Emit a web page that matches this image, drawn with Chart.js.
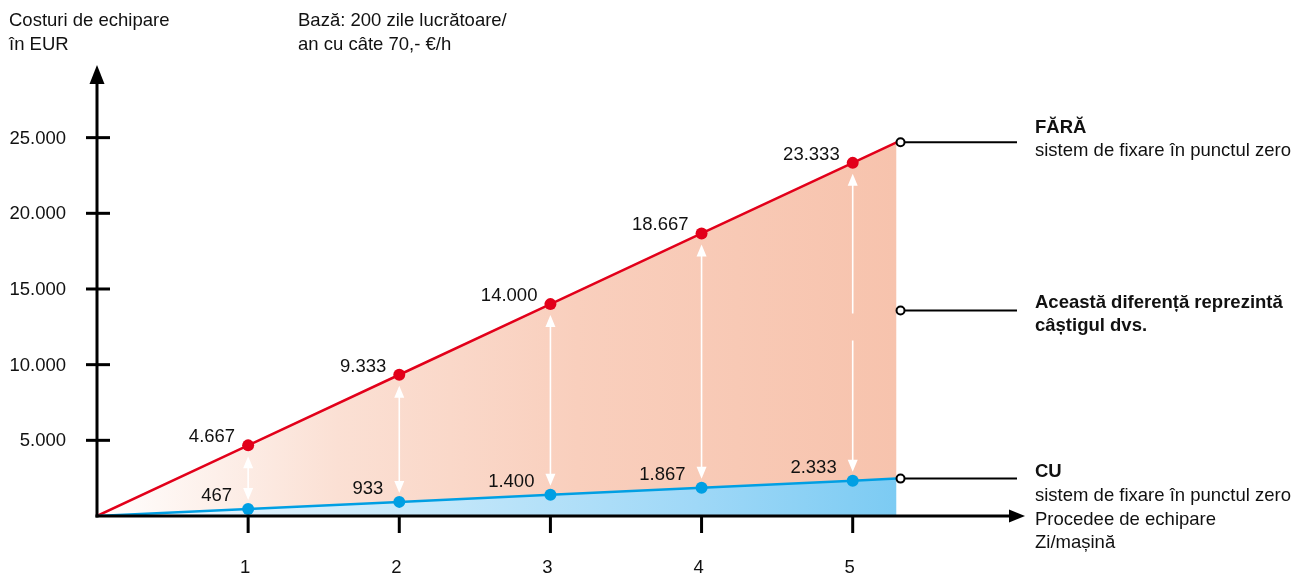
<!DOCTYPE html>
<html>
<head>
<meta charset="utf-8">
<script src="https://cdn.jsdelivr.net/npm/chart.js@4"></script>
<style>
html,body{margin:0;padding:0;background:#fff;}
canvas{display:block;}
</style>
</head>
<body>
<canvas id="c" width="1307" height="573"></canvas>
<script>
// ---- data ----
const categories = [0, 1, 2, 3, 4, 5, 5.29];          // Procedee de echipare Zi/mașină
const faraValues = [0, 4667, 9333, 14000, 18667, 23333, 24690]; // FĂRĂ sistem
const cuValues   = [0, 467, 933, 1400, 1867, 2333, 2470];        // CU sistem
const xTicks = [1, 2, 3, 4, 5];
const yTicks = [5000, 10000, 15000, 20000, 25000];
const xMax = 6.14;
const yMax = 29800;

const yTitle = ['Costuri de echipare', 'în EUR'];
const baseNote = ['Bază: 200 zile lucrătoare/', 'an cu câte 70,- €/h'];
const faraTitle = 'FĂRĂ';
const sysText = 'sistem de fixare în punctul zero';
const diffText = ['Această diferență reprezintă', 'câștigul dvs.'];
const cuTitle = 'CU';
const xTitle = ['Procedee de echipare', 'Zi/mașină'];

const FONT = '"Liberation Sans", Arial, Helvetica, sans-serif';
const FS = '18.5px ';
const RED = '#e2001a';
const BLUE = '#009fe3';

function fmt(v){ return String(Math.round(v)).replace(/\B(?=(\d{3})+(?!\d))/g, '.'); }

function gradFill(stops){
  return function(ctx){
    const chart = ctx.chart;
    const area = chart.chartArea;
    if(!area) return null;
    const xs = chart.scales.x;
    const g = chart.ctx.createLinearGradient(xs.getPixelForValue(0), 0, xs.getPixelForValue(categories[categories.length-1]), 0);
    stops.forEach(s => g.addColorStop(s[0], s[1]));
    return g;
  };
}

function edgeRadius(r){
  return function(ctx){
    const i = ctx.dataIndex;
    return (i === 0 || i === categories.length - 1) ? 0 : r;
  };
}

const overlay = {
  id: 'overlay',
  afterDatasetsDraw(chart){
    const c = chart.ctx;
    const xs = chart.scales.x, ys = chart.scales.y;
    const X = v => xs.getPixelForValue(v);
    const Y = v => ys.getPixelForValue(v);
    const x0 = X(0), y0 = Y(0);
    const n = categories.length;
    c.save();

    // white double arrows
    const redEndY = Y(faraValues[n-1]), cuEndY = Y(cuValues[n-1]);
    const midY = (redEndY + cuEndY) / 2;
    c.strokeStyle = '#fff'; c.fillStyle = '#fff'; c.lineWidth = 1.6;
    for(let i = 1; i <= 5; i++){
      const x = X(categories[i]);
      const t = Y(faraValues[i]) + 11;
      const b = Y(cuValues[i]) - 9;
      const hl = 12, hw = 5;
      c.beginPath();
      if(i === 5){
        c.moveTo(x, t + hl - 1); c.lineTo(x, midY + 3);
        c.moveTo(x, midY + 30); c.lineTo(x, b - hl + 1);
      } else {
        c.moveTo(x, t + hl - 1); c.lineTo(x, b - hl + 1);
      }
      c.stroke();
      c.beginPath(); c.moveTo(x, t); c.lineTo(x - hw, t + hl); c.lineTo(x + hw, t + hl); c.closePath(); c.fill();
      c.beginPath(); c.moveTo(x, b); c.lineTo(x - hw, b - hl); c.lineTo(x + hw, b - hl); c.closePath(); c.fill();
    }

    // axes
    c.strokeStyle = '#000'; c.fillStyle = '#000'; c.lineWidth = 3;
    const yTip = ys.top, xTip = xs.right;
    c.beginPath(); c.moveTo(x0, y0 + 1.5); c.lineTo(x0, yTip + 16); c.stroke();
    c.beginPath(); c.moveTo(x0, yTip); c.lineTo(x0 - 7.5, yTip + 19); c.lineTo(x0 + 7.5, yTip + 19); c.closePath(); c.fill();
    c.beginPath(); c.moveTo(x0 - 1.5, y0); c.lineTo(xTip - 14, y0); c.stroke();
    c.beginPath(); c.moveTo(xTip, y0); c.lineTo(xTip - 16, y0 - 6.5); c.lineTo(xTip - 16, y0 + 6.5); c.closePath(); c.fill();

    // ticks
    c.lineWidth = 3;
    yTicks.forEach(v => { const y = Y(v); c.beginPath(); c.moveTo(x0 - 11, y); c.lineTo(x0 + 13, y); c.stroke(); });
    xTicks.forEach(v => { const x = X(v); c.beginPath(); c.moveTo(x, y0); c.lineTo(x, y0 + 17); c.stroke(); });

    c.font = FS + FONT;
    c.textBaseline = 'alphabetic';
    c.fillStyle = '#111';
    c.textAlign = 'right';
    yTicks.forEach(v => c.fillText(fmt(v), 66, Y(v) + 6));
    c.textAlign = 'center';
    xTicks.forEach(v => c.fillText(String(v), X(v) - 3, 573));

    // data labels
    c.textAlign = 'right';
    for(let i = 1; i <= 5; i++){
      const x = X(categories[i]);
      c.fillText(fmt(faraValues[i]), x - 13, Y(faraValues[i]) - 3);
      c.fillText(fmt(cuValues[i]), x - 16, Y(cuValues[i]) - 8);
    }

    // titles
    c.textAlign = 'left';
    c.fillText(yTitle[0], 9, 26); c.fillText(yTitle[1], 9, 50);
    c.fillText(baseNote[0], 298, 26); c.fillText(baseNote[1], 298, 50);

    // leader lines with open circles
    const ex = X(categories[n-1]) + 4;
    [redEndY, midY, cuEndY].forEach(y => {
      c.strokeStyle = '#000'; c.lineWidth = 2;
      c.beginPath(); c.moveTo(ex + 4, y); c.lineTo(1017, y); c.stroke();
      c.beginPath(); c.arc(ex, y, 4, 0, Math.PI * 2); c.fillStyle = '#fff'; c.fill(); c.stroke();
    });

    const tx = 1035;
    c.fillStyle = '#111';
    c.font = 'bold ' + FS + FONT;
    c.fillText(faraTitle, tx, 133);
    c.fillText(diffText[0], tx, 308);
    c.fillText(diffText[1], tx, 331);
    c.fillText(cuTitle, tx, 477);
    c.font = FS + FONT;
    c.fillText(sysText, tx, 156);
    c.fillText(sysText, tx, 501);
    c.fillText(xTitle[0], tx, 525);
    c.fillText(xTitle[1], tx, 548);

    c.restore();
  }
};

new Chart(document.getElementById('c'), {
  type: 'line',
  data: {
    labels: categories,
    datasets: [
      {
        label: 'FĂRĂ',
        data: categories.map((x, i) => ({x: x, y: faraValues[i]})),
        borderColor: RED,
        borderWidth: 2.5,
        pointRadius: edgeRadius(6),
        pointBackgroundColor: RED,
        pointBorderWidth: 0,
        fill: '+1',
        backgroundColor: gradFill([[0, '#ffffff'], [0.3, '#fbe0d4'], [0.6, '#f9cfbd'], [1, '#f7c3ad']]),
        tension: 0,
        order: 1
      },
      {
        label: 'CU',
        data: categories.map((x, i) => ({x: x, y: cuValues[i]})),
        borderColor: BLUE,
        borderWidth: 2.5,
        pointRadius: edgeRadius(6),
        pointBackgroundColor: BLUE,
        pointBorderWidth: 0,
        fill: 'origin',
        backgroundColor: gradFill([[0, '#f2f9fe'], [0.4, '#c6e8fa'], [0.75, '#9fd8f7'], [1, '#7ccbf3']]),
        tension: 0,
        order: 0
      }
    ]
  },
  options: {
    responsive: false,
    animation: false,
    devicePixelRatio: 1,
    layout: { padding: { left: 97, right: 1307 - 1025, top: 65, bottom: 57 } },
    plugins: { legend: { display: false }, tooltip: { enabled: false } },
    scales: {
      x: { type: 'linear', min: 0, max: xMax, display: false },
      y: { type: 'linear', min: 0, max: yMax, display: false }
    }
  },
  plugins: [overlay]
});
</script>
</body>
</html>
